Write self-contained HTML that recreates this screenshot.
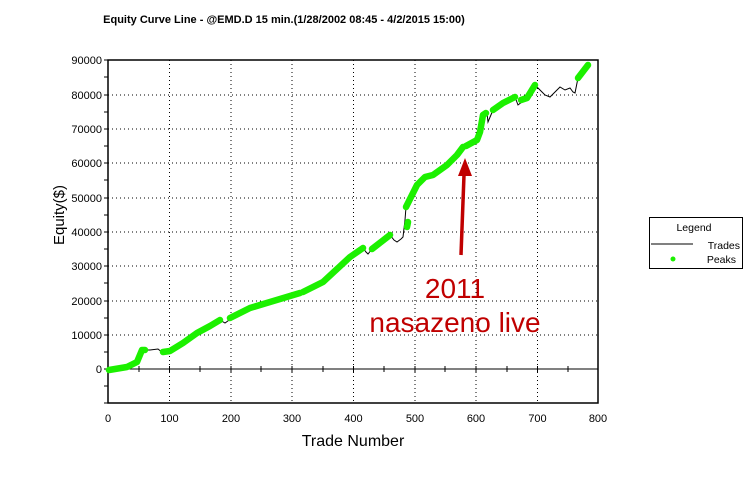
<!DOCTYPE html>
<html><head><style>body{margin:0;background:#fff}svg{display:block}</style></head><body>
<svg width="755" height="492" viewBox="0 0 755 492" xmlns="http://www.w3.org/2000/svg" font-family="Liberation Sans, sans-serif">
<rect width="755" height="492" fill="#fff"/>
<text x="284" y="23" font-size="11" font-weight="bold" text-anchor="middle">Equity Curve Line - @EMD.D 15 min.(1/28/2002 08:45 - 4/2/2015 15:00)</text>
<g stroke="#000" stroke-dasharray="1,3" stroke-width="1">
<line x1="108" y1="95" x2="598" y2="95"/><line x1="108" y1="129" x2="598" y2="129"/><line x1="108" y1="163" x2="598" y2="163"/><line x1="108" y1="198" x2="598" y2="198"/><line x1="108" y1="232" x2="598" y2="232"/><line x1="108" y1="266" x2="598" y2="266"/><line x1="108" y1="301" x2="598" y2="301"/><line x1="108" y1="335" x2="598" y2="335"/>
<line x1="169.5" y1="60" x2="169.5" y2="403"/><line x1="231" y1="60" x2="231" y2="403"/><line x1="292" y1="60" x2="292" y2="403"/><line x1="353.5" y1="60" x2="353.5" y2="403"/><line x1="415" y1="60" x2="415" y2="403"/><line x1="476" y1="60" x2="476" y2="403"/><line x1="537.5" y1="60" x2="537.5" y2="403"/>
</g>
<rect x="108" y="60" width="490" height="343" fill="none" stroke="#000" stroke-width="1.5"/>
<line x1="108" y1="369" x2="598" y2="369" stroke="#000" stroke-width="1"/>
<g stroke="#000" stroke-width="1">
<line x1="104" y1="60" x2="108" y2="60"/><line x1="104" y1="95" x2="108" y2="95"/><line x1="104" y1="129" x2="108" y2="129"/><line x1="104" y1="163" x2="108" y2="163"/><line x1="104" y1="198" x2="108" y2="198"/><line x1="104" y1="232" x2="108" y2="232"/><line x1="104" y1="266" x2="108" y2="266"/><line x1="104" y1="301" x2="108" y2="301"/><line x1="104" y1="335" x2="108" y2="335"/><line x1="104" y1="369" x2="108" y2="369"/><line x1="104" y1="403" x2="108" y2="403"/>
<line x1="104" y1="77" x2="108" y2="77"/><line x1="104" y1="112" x2="108" y2="112"/><line x1="104" y1="146" x2="108" y2="146"/><line x1="104" y1="180" x2="108" y2="180"/><line x1="104" y1="215" x2="108" y2="215"/><line x1="104" y1="249" x2="108" y2="249"/><line x1="104" y1="283" x2="108" y2="283"/><line x1="104" y1="318" x2="108" y2="318"/><line x1="104" y1="352" x2="108" y2="352"/><line x1="104" y1="386" x2="108" y2="386"/>
</g>
<g stroke="#000" stroke-width="1">
<line x1="139" y1="366" x2="139" y2="372"/><line x1="169.5" y1="366" x2="169.5" y2="372"/><line x1="200" y1="366" x2="200" y2="372"/><line x1="231" y1="366" x2="231" y2="372"/><line x1="261" y1="366" x2="261" y2="372"/><line x1="292" y1="366" x2="292" y2="372"/><line x1="323" y1="366" x2="323" y2="372"/><line x1="353.5" y1="366" x2="353.5" y2="372"/><line x1="384" y1="366" x2="384" y2="372"/><line x1="415" y1="366" x2="415" y2="372"/><line x1="445" y1="366" x2="445" y2="372"/><line x1="476" y1="366" x2="476" y2="372"/><line x1="507" y1="366" x2="507" y2="372"/><line x1="537.5" y1="366" x2="537.5" y2="372"/><line x1="568" y1="366" x2="568" y2="372"/>
</g>
<g font-size="11" text-anchor="end">
<text x="102" y="64">90000</text><text x="102" y="99">80000</text><text x="102" y="133">70000</text><text x="102" y="167">60000</text><text x="102" y="202">50000</text><text x="102" y="236">40000</text><text x="102" y="270">30000</text><text x="102" y="305">20000</text><text x="102" y="339">10000</text><text x="102" y="373">0</text>
</g>
<g font-size="11" text-anchor="middle">
<text x="108" y="422">0</text><text x="169.5" y="422">100</text><text x="231" y="422">200</text><text x="292" y="422">300</text><text x="353.5" y="422">400</text><text x="415" y="422">500</text><text x="476" y="422">600</text><text x="537.5" y="422">700</text><text x="598" y="422">800</text>
</g>
<text x="353" y="446" font-size="16" text-anchor="middle">Trade Number</text>
<text transform="translate(64,215) rotate(-90)" font-size="15" text-anchor="middle">Equity($)</text>
<polyline fill="none" stroke="#000" stroke-width="1" points="108,370 127,367 137,362 142,350 150,350 158,349 163,353 170,351 183,343 197,333 210,326 220,320 225,323 232,318 250,308 270,302 290,296 300,293 323,282 350,257 363,248 366,252 368,254 372,249 390,235 394,240 397,242 401,239 403,237 405,220 406,207 417,185 425,177 433,175 447,165 457,155 463,147 477,140 480,132 483,115 487,113 488,122 493,110 503,103 515,97 518,105 527,98 535,85 538,88 540,90 545,95 550,97 555,92 560,87 565,90 570,88 573,92 575,93 578,78 588,65"/>
<g fill="none" stroke="#1cf000" stroke-width="6.5" stroke-linecap="round" stroke-linejoin="round">
<polyline points="109,370 127,367 137,362 142,350 145,350"/>
<polyline points="163,352 170,351 183,343 197,333 210,326 220,320"/>
<polyline points="230,318 250,308 270,302 290,296 300,293"/>
<polyline points="303,292 323,282 350,257 363,248"/>
<polyline points="372,249 390,235"/>
<polyline points="407,227 408,222"/>
<polyline points="406,207 417,185 425,177 433,175 447,165 457,155 463,147"/>
<polyline points="466,146 477,140 480,132 483,115 486,113"/>
<polyline points="493,110 503,103 515,97"/>
<polyline points="521,100 527,98 535,85"/>
<polyline points="578,78 588,65"/>
</g>
<g>
<line x1="461" y1="255" x2="464" y2="175" stroke="#c00000" stroke-width="3.5"/>
<polygon points="458,176 465,158 472,176" fill="#c00000"/>
</g>
<text x="455" y="298" font-size="28" fill="#c00000" text-anchor="middle">2011</text>
<text x="455" y="332" font-size="28" fill="#c00000" text-anchor="middle">nasazeno live</text>
<rect x="649.5" y="217.5" width="93" height="51" fill="#fff" stroke="#000" stroke-width="1"/>
<text x="694" y="231" font-size="10.5" text-anchor="middle">Legend</text>
<line x1="651" y1="244" x2="693" y2="244" stroke="#000" stroke-width="1"/>
<text x="740" y="249" font-size="10.5" text-anchor="end">Trades</text>
<circle cx="673" cy="259" r="2.5" fill="#1cf000"/>
<text x="736" y="263" font-size="10.5" text-anchor="end">Peaks</text>
</svg>
</body></html>
